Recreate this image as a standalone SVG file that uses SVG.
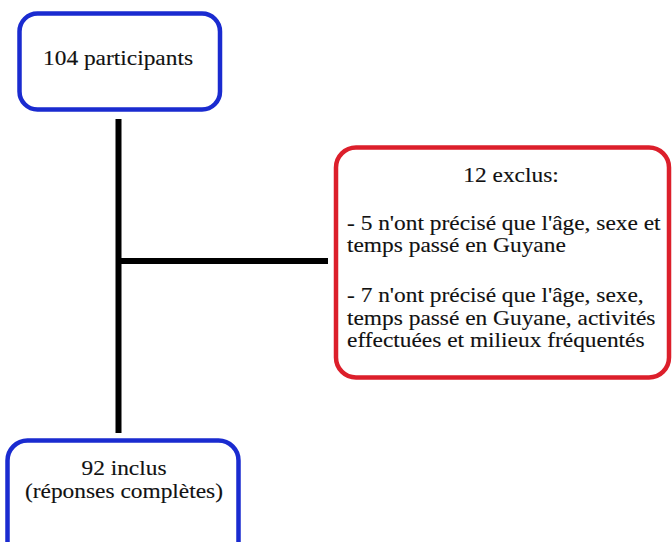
<svg xmlns="http://www.w3.org/2000/svg" width="672" height="542" viewBox="0 0 672 542">
<style>
.blue{fill:#ffffff;stroke:#1a2bd0;stroke-width:4.5}
.red{fill:#ffffff;stroke:#dc1f2b;stroke-width:4.5}
text{font-family:'Liberation Serif','Times New Roman',serif;font-size:20px;fill:#111111;stroke:#111111;stroke-width:0.12}
.c{text-anchor:middle}
.line{stroke:#000000;stroke-width:6;fill:none;stroke-linecap:butt}
</style>
<rect x="0" y="0" width="672" height="542" fill="#ffffff"/>
<g id="connectors">
<line class="line" x1="118.5" y1="119" x2="118.5" y2="433"/>
<line class="line" x1="118.5" y1="261" x2="328" y2="261"/>
</g>
<g id="node-participants">
<rect class="blue" x="19.5" y="13.5" width="200.5" height="96" rx="18"/>
<text class="c" transform="translate(118 65) scale(1.17 1)" x="0" y="0">104 participants</text>
</g>
<g id="node-exclus">
<rect class="red" x="336" y="147.5" width="333" height="230" rx="20"/>
<text class="c" transform="translate(511 182) scale(1.17 1)" x="0" y="0">12 exclus:</text>
<text transform="translate(347 229.5) scale(1.17 1)" x="0" y="0">- 5 n'ont précisé que l'âge, sexe et</text>
<text transform="translate(347 252) scale(1.17 1)" x="0" y="0">temps passé en Guyane</text>
<text transform="translate(347 302) scale(1.17 1)" x="0" y="0">- 7 n'ont précisé que l'âge, sexe,</text>
<text transform="translate(347 324.5) scale(1.17 1)" x="0" y="0">temps passé en Guyane, activités</text>
<text transform="translate(347 347) scale(1.17 1)" x="0" y="0">effectuées et milieux fréquentés</text>
</g>
<g id="node-inclus">
<rect class="blue" x="7.5" y="440.5" width="231" height="125" rx="20"/>
<text class="c" transform="translate(124 475) scale(1.17 1)" x="0" y="0">92 inclus</text>
<text class="c" transform="translate(124 497.5) scale(1.17 1)" x="0" y="0">(réponses complètes)</text>
</g>
</svg>
